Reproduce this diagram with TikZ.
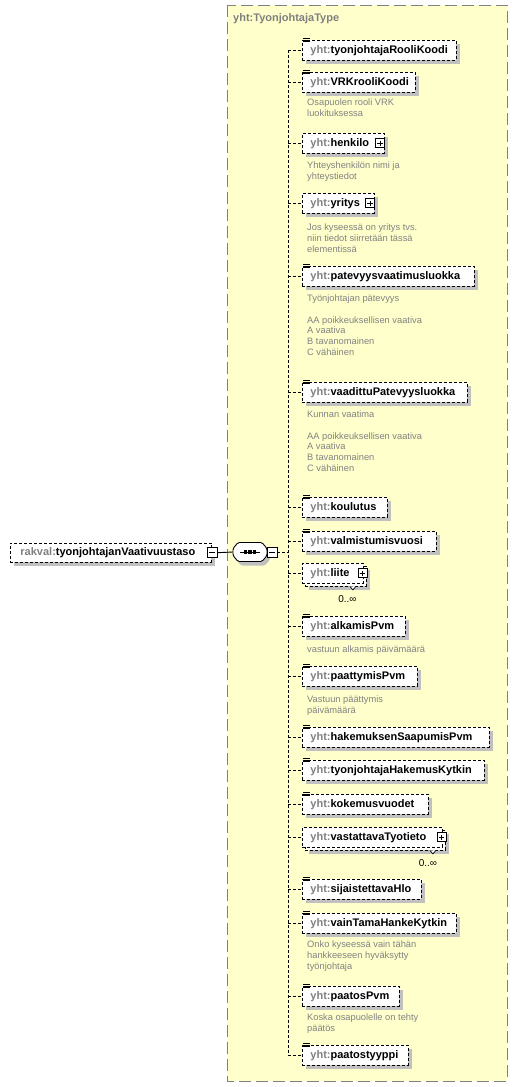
\documentclass[tikz,border=0pt]{standalone}
\usepackage{fontspec}
\setmainfont{Liberation Sans}
\usetikzlibrary{shadows}
\definecolor{ybg}{RGB}{255,255,204}
\definecolor{bgray}{RGB}{128,128,128}
\definecolor{pgray}{RGB}{128,128,128}
\definecolor{dgray}{RGB}{130,130,130}
\definecolor{shgray}{RGB}{192,192,192}
\newcommand\pfx[1]{\textcolor{pgray}{#1}}
\newcommand\elt[2]{\makebox[#1pt][l]{\hspace{8pt}\pfx{yht:}#2}}
\newcommand\licon[1]{\draw[line width=0.7pt,solid] ([xshift=1pt,yshift=1.7pt]#1.north west) -- ++(6.5,0) ([xshift=1pt]#1.north west) -- ++(6.5,0) ([xshift=1pt,yshift=-1.7pt]#1.north west) -- ++(6.5,0);}
\tikzset{
  elembase/.style={draw, dash pattern=on 3pt off 2pt, fill=white, line width=0.9pt, inner xsep=0pt, inner ysep=0pt, minimum height=19.5pt, anchor=north west, font=\fontsize{11}{13}\selectfont\bfseries},
  elem/.style={elembase, general shadow={fill=shgray, shadow xshift=4pt, shadow yshift=-4pt}},
  backbox/.style={elem, minimum width=#1},
  doc/.style={anchor=north west, align=left, inner sep=0pt, font=\fontsize{9.3}{10.8}\selectfont, text=dgray},
  conn/.style={dash pattern=on 3pt off 2pt, line width=0.9pt},
  pmbox/.style={draw, solid, fill=white, minimum size=#1, inner sep=0pt, line width=0.7pt},
  plusbox/.style={pmbox=9pt, path picture={\draw[line width=0.7pt] ([xshift=1.8pt]path picture bounding box.west) -- ([xshift=-1.8pt]path picture bounding box.east) ([yshift=-1.8pt]path picture bounding box.north) -- ([yshift=1.8pt]path picture bounding box.south);}},
  minusbox/.style={pmbox=10pt, path picture={\draw[line width=0.7pt] ([xshift=2pt]path picture bounding box.west) -- ([xshift=-2pt]path picture bounding box.east);}},
  occ/.style={font=\fontsize{10}{12}\selectfont, inner sep=0pt},
}
\begin{document}
\begin{tikzpicture}[x=1pt,y=-1pt]
\useasboundingbox (0,0) rectangle (517,1087);
% type container
\draw[fill=ybg, draw=bgray, line width=1pt, dash pattern=on 12pt off 5pt] (227,5) rectangle (507,1081);
\node[anchor=west, inner sep=0pt, font=\fontsize{11}{13}\selectfont\bfseries, text=bgray] (title) at (233,19) {yht:TyonjohtajaType};

% root element
\node[elem] (root) at (10,542.5) {\makebox[201pt][l]{\hspace{10pt}\pfx{rakval:}tyonjohtajanVaativuustaso}};
\node[minusbox] (rm) at (root.east) {};

% sequence compositor
\node[minimum width=34pt, minimum height=19pt, inner sep=0pt] (comp) at (250,552) {};
\fill[shgray, rounded corners=1.5pt, shift={(3,4)}] (233,548.5) -- (238,542.5) -- (262,542.5) -- (267,548.5) -- (267,555.5) -- (262,561.5) -- (238,561.5) -- (233,555.5) -- cycle;
\draw[fill=white, line width=0.9pt, rounded corners=1.5pt] (233,548.5) -- (238,542.5) -- (262,542.5) -- (267,548.5) -- (267,555.5) -- (262,561.5) -- (238,561.5) -- (233,555.5) -- cycle;
\draw[line width=0.9pt] (240,552) -- (260,552);
\foreach \dx in {245.5,250,254.5} \fill (\dx-1.6,550.4) rectangle (\dx+1.6,553.6);
\node[minusbox] (cm) at (272,552) {};
\draw[line width=0.9pt] (rm.east) -- (comp.west);
\coordinate (sp) at (288,552);
\draw[conn] (cm.east) -- (sp);

% elements
\node[elem] (e1) at (302,40) {\elt{154}{tyonjohtajaRooliKoodi}};
\node[elem] (e2) at (302,72) {\elt{113}{VRKrooliKoodi}};
\node[elem] (e3) at (302,133) {\elt{82}{henkilo}};
\node[elem] (e4) at (302,193) {\elt{72}{yritys}};
\node[elem] (e5) at (302,266) {\elt{172}{patevyysvaatimusluokka}};
\node[elem] (e6) at (302,382) {\elt{165}{vaadittuPatevyysluokka}};
\node[elem] (e7) at (302,497) {\elt{85}{koulutus}};
\node[elem] (e8) at (302,531) {\elt{134}{valmistumisvuosi}};
\node[backbox=61pt] (e9b) at (305,566) {};
\node[elembase] (e9) at (302,563) {\elt{61}{liite}};
\node[elem] (e10) at (302,616) {\elt{103}{alkamisPvm}};
\node[elem] (e11) at (302,666) {\elt{115}{paattymisPvm}};
\node[elem] (e12) at (302,727) {\elt{187}{hakemuksenSaapumisPvm}};
\node[elem] (e13) at (302,760) {\elt{182}{tyonjohtajaHakemusKytkin}};
\node[elem] (e14) at (302,794) {\elt{126}{kokemusvuodet}};
\node[backbox=140pt] (e15b) at (305,830) {};
\node[elembase] (e15) at (302,827) {\elt{140}{vastattavaTyotieto}};
\node[elem] (e16) at (302,879) {\elt{119}{sijaistettavaHlo}};
\node[elem] (e17) at (302,913) {\elt{154}{vainTamaHankeKytkin}};
\node[elem] (e18) at (302,986) {\elt{97}{paatosPvm}};
\node[elem] (e19) at (302,1045) {\elt{106}{paatostyyppi}};

% list icons (simple types)
\foreach \n in {e1,e2,e5,e6,e7,e8,e10,e11,e12,e13,e14,e16,e17,e18,e19} {\licon{\n}}

% expand icons
\node[plusbox] (p3) at ([xshift=-5pt]e3.east) {};
\node[plusbox] (p4) at ([xshift=-5pt]e4.east) {};
\node[plusbox] (p9) at ([xshift=-1.5pt]e9.east) {};
\node[plusbox] (p15) at ([xshift=-1.5pt]e15.east) {};

% occurrence markers
\draw[line width=0.7pt, fill=white] ([xshift=-17pt]e9b.south east) -- ++(3,3.5) -- ++(3,-3.5);
\node[occ] (o9) at ([shift={(-19.5,13)}]e9b.south east) {0..∞};
\draw[line width=0.7pt, fill=white] ([xshift=-16pt]e15b.south east) -- ++(3,3.5) -- ++(3,-3.5);
\node[occ] (o15) at ([shift={(-18,12.5)}]e15b.south east) {0..∞};

% connectors
\draw[conn] (sp |- e1.west) -- (sp |- e19.west);
\foreach \i in {1,...,19} {\draw[conn] (sp |- e\i.west) -- (e\i.west);}

% documentation
\node[doc] (d2) at (307,98.5) {Osapuolen rooli VRK\\luokituksessa};
\node[doc] (d3) at (307,161.5) {Yhteyshenkilön nimi ja\\yhteystiedot};
\node[doc] (d4) at (307,224) {Jos kyseessä on yritys tvs.\\niin tiedot siirretään tässä\\elementissä};
\node[doc] (d5) at (307,294.5) {Työnjohtajan pätevyys\\[10.8pt]AA poikkeuksellisen vaativa\\A vaativa\\B tavanomainen\\C vähäinen};
\node[doc] (d6) at (307,410.5) {Kunnan vaatima\\[10.8pt]AA poikkeuksellisen vaativa\\A vaativa\\B tavanomainen\\C vähäinen};
\node[doc] (d10) at (307,645.5) {vastuun alkamis päivämäärä};
\node[doc] (d11) at (307,695.5) {Vastuun päättymis\\päivämäärä};
\node[doc] (d17) at (307,941) {Onko kyseessä vain tähän\\hankkeeseen hyväksytty\\työnjohtaja};
\node[doc] (d18) at (307,1013.5) {Koska osapuolelle on tehty\\päätös};
\end{tikzpicture}
\end{document}
